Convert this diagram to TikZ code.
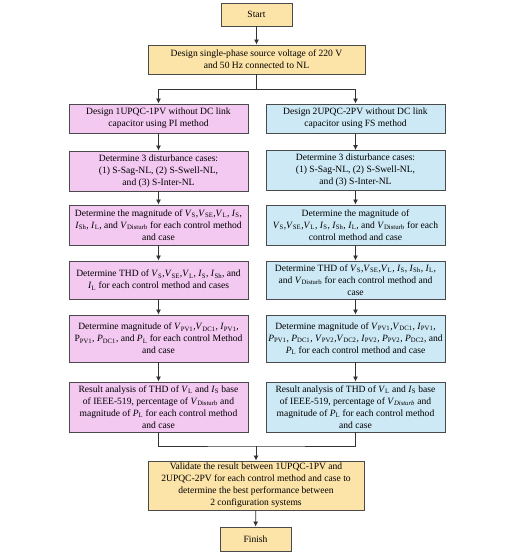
\documentclass[tikz,border=0pt]{standalone}
\usepackage{fontspec}
\setmainfont{Liberation Serif}
\usetikzlibrary{arrows.meta}
\definecolor{orangefill}{HTML}{FCE3A8}
\definecolor{pinkfill}{HTML}{F3C8F1}
\definecolor{bluefill}{HTML}{CDE9F5}
\definecolor{edgegray}{HTML}{4A4A4A}
\newcommand{\qv}[2]{\textit{#1}\textsubscript{#2}}
\begin{document}
\begin{tikzpicture}[x=1bp,y=-1bp,
  box/.style={draw=edgegray, line width=0.9bp, inner sep=1bp, align=center,
    font=\fontsize{9.6}{12}\selectfont, minimum width=179bp},
  obox/.style={box, fill=orangefill},
  pbox/.style={box, fill=pinkfill},
  bbox/.style={box, fill=bluefill},
  link/.style={draw=black!80, line width=0.8bp},
  arr/.style={link, -{Latex[length=5bp,width=5bp]}}
]
\useasboundingbox[fill=white] (0,0) rectangle (519,557);

\node[obox, minimum width=71bp, minimum height=23bp] (start) at (256.5,14.5) {Start};
\node[obox, minimum width=217bp, minimum height=29bp] (design) at (256.5,59.5)
  {Design single-phase source voltage of 220 V\\and 50 Hz connected to NL};

% left column
\node[pbox, minimum height=29bp] (l1) at (158.5,118.5)
  {Design 1UPQC-1PV without DC link\\capacitor using PI method};
\node[pbox, minimum height=40bp] (l2) at (158.5,171)
  {Determine 3 disturbance cases:\\(1) S-Sag-NL, (2) S-Swell-NL,\\and (3) S-Inter-NL};
\node[pbox, minimum height=40bp] (l3) at (158.5,225)
  {Determine the magnitude of \qv{V}{S},\qv{V}{SE},\qv{V}{L}, \qv{I}{S},\\\qv{I}{Sh}, \qv{I}{L}, and \qv{V}{Disturb} for each control method\\and case};
\node[pbox, minimum height=38bp] (l4) at (158.5,280)
  {Determine THD of \qv{V}{S},\qv{V}{SE},\qv{V}{L}, \qv{I}{S}, \qv{I}{Sh}, and\\\qv{I}{L} for each control method and cases};
\node[pbox, minimum height=47bp] (l5) at (158.5,338.5)
  {Determine magnitude of \qv{V}{PV1},\qv{V}{DC1}, \qv{I}{PV1},\\P\textsubscript{PV1}, \qv{P}{DC1}, and \qv{P}{L} for each control Method\\and case};
\node[pbox, minimum height=50bp] (l6) at (158.5,407)
  {Result analysis of THD of \qv{V}{L} and \qv{I}{S} base\\of IEEE-519, percentage of \qv{V}{Disturb} and\\magnitude of \qv{P}{L} for each control method\\and case};

% right column
\node[bbox, minimum height=29bp] (r1) at (355.5,118.5)
  {Design 2UPQC-2PV without DC link\\capacitor using FS method};
\node[bbox, minimum height=40bp] (r2) at (355.5,170.5)
  {Determine 3 disturbance cases:\\(1) S-Sag-NL, (2) S-Swell-NL,\\and (3) S-Inter-NL};
\node[bbox, minimum height=40bp] (r3) at (355.5,225)
  {Determine the magnitude of\\\qv{V}{S},\qv{V}{SE},\qv{V}{L}, \qv{I}{S}, \qv{I}{Sh}, \qv{I}{L}, and \qv{V}{Disturb} for each\\control method and case};
\node[bbox, minimum height=38bp] (r4) at (355.5,280)
  {Determine THD of \qv{V}{S},\qv{V}{SE},\qv{V}{L}, \qv{I}{S}, \qv{I}{Sh}, \qv{I}{L},\\and \qv{V}{Disturb} for each control method and\\case};
\node[bbox, minimum height=47bp] (r5) at (355.5,338.5)
  {Determine magnitude of \qv{V}{PV1},\qv{V}{DC1}, \qv{I}{PV1},\\\qv{P}{PV1}, \qv{P}{DC1}, \qv{V}{PV2},\qv{V}{DC2}, \qv{I}{PV2}, \qv{P}{PV2}, \qv{P}{DC2}, and\\\qv{P}{L} for each control method and case};
\node[bbox, minimum height=50bp] (r6) at (355.5,407)
  {Result analysis of THD of \qv{V}{L} and \qv{I}{S} base\\of IEEE-519, percentage of \textit{V}\textsubscript{\textit{Disturb}} and\\magnitude of \qv{P}{L} for each control method\\and case};

\node[obox, minimum width=216bp, minimum height=49bp] (val) at (256,485.5)
  {Validate the result between 1UPQC-1PV and\\2UPQC-2PV for each control method and case to\\determine the best performance between\\2 configuration systems};
\node[obox, minimum width=71bp, minimum height=24bp] (fin) at (255.5,539) {Finish};

% connectors
\draw[arr] (start) -- (design);
\coordinate (split) at (256.5,89);
\draw[link] (design.south) -- (split);
\draw[arr] (split) -| (l1.north);
\draw[arr] (split) -| (r1.north);
\draw[arr] (l1) -- (l2);
\draw[arr] (l2) -- (l3);
\draw[arr] (l3) -- (l4);
\draw[arr] (l4) -- (l5);
\draw[arr] (l5) -- (l6);
\draw[arr] (r1) -- (r2);
\draw[arr] (r2) -- (r3);
\draw[arr] (r3) -- (r4);
\draw[arr] (r4) -- (r5);
\draw[arr] (r5) -- (r6);
\coordinate (merge) at (256,446);
\draw[link] (l6.south) |- (merge) -| (r6.south);
\draw[arr] (merge) -- (val.north);
\draw[arr] (val) -- (fin);
\end{tikzpicture}
\end{document}
